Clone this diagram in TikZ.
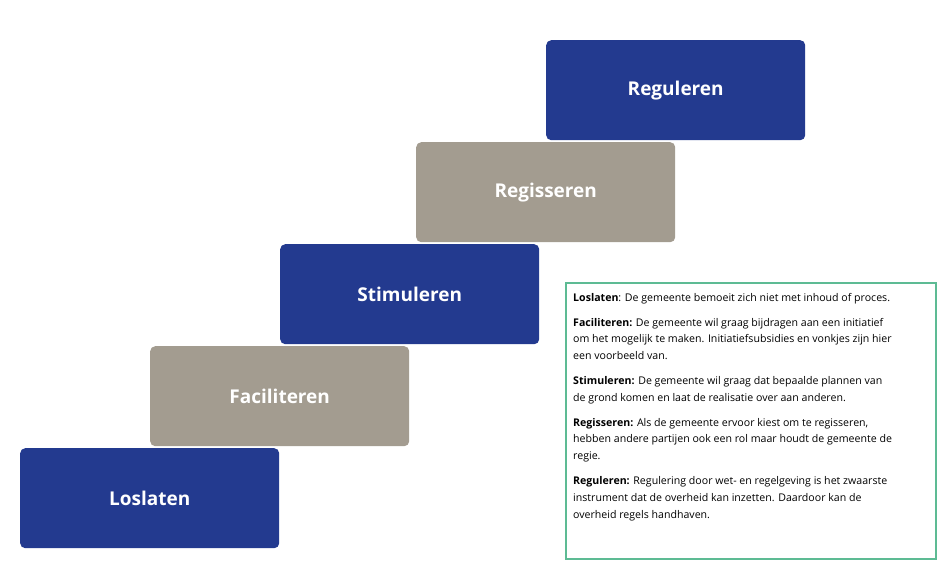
\documentclass[tikz,border=0pt]{standalone}
\usepackage{fontspec}
\setmainfont{Open Sans}
\begin{document}
\begin{tikzpicture}[x=1pt,y=-1pt,
 stair/.style={rounded corners=5pt,minimum width=259pt,minimum height=100pt,inner sep=0pt,text=white,font=\bfseries\fontsize{19}{22}\selectfont},
 navy/.style={stair,fill=stepnavy},
 grey/.style={stair,fill=stepgrey}]
\definecolor{stepnavy}{HTML}{233A8F}
\definecolor{stepgrey}{HTML}{A39C90}
\definecolor{boxgreen}{HTML}{5DBB94}
\useasboundingbox (0,0) rectangle (945,572);
\node[navy,anchor=north west] (los) at (20,448) {Loslaten};
\node[grey,anchor=north west] (fac) at (150,346) {Faciliteren};
\node[navy,anchor=north west] (sti) at (280,244) {Stimuleren};
\node[grey,anchor=north west] (reg) at (416,142) {Regisseren};
\node[navy,anchor=north west] (rgl) at (546,40) {Reguleren};
\node[draw=boxgreen,line width=1.5pt,anchor=north west,minimum width=370pt,minimum height=276pt,inner sep=0pt] (box) at (565,282) {};
\node[anchor=north west,align=left,inner sep=0pt,font=\fontsize{10.6}{16.8}\selectfont] (txt) at (573,293) {%
\textbf{Loslaten}: De gemeente bemoeit zich niet met inhoud of proces.\\[8pt]
\textbf{Faciliteren:} De gemeente wil graag bijdragen aan een initiatief\\
om het mogelijk te maken. Initiatiefsubsidies en vonkjes zijn hier\\
een voorbeeld van.\\[8pt]
\textbf{Stimuleren:} De gemeente wil graag dat bepaalde plannen van\\
de grond komen en laat de realisatie over aan anderen.\\[8pt]
\textbf{Regisseren:} Als de gemeente ervoor kiest om te regisseren,\\
hebben andere partijen ook een rol maar houdt de gemeente de\\
regie.\\[8pt]
\textbf{Reguleren:} Regulering door wet- en regelgeving is het zwaarste\\
instrument dat de overheid kan inzetten. Daardoor kan de\\
overheid regels handhaven.};
\end{tikzpicture}
\end{document}
